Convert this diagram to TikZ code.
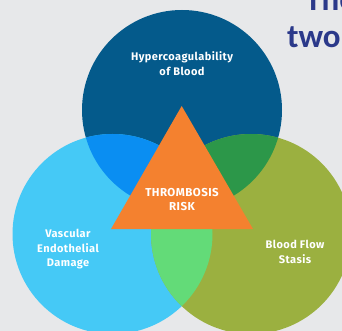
\documentclass[tikz,border=0pt]{standalone}
\usepackage{fontspec}
\setmainfont{Fira Sans}[LetterSpace=4]
\newfontfamily\headfont{Carlito}
\definecolor{bg}{HTML}{E7E8EA}
\definecolor{topc}{HTML}{045A8B}
\definecolor{leftc}{HTML}{45C9F6}
\definecolor{rightc}{HTML}{9BB040}
\definecolor{tlc}{HTML}{0A8EF2}
\definecolor{trc}{HTML}{2C9749}
\definecolor{lrc}{HTML}{63DB78}
\definecolor{tric}{HTML}{F4812F}
\definecolor{navy}{HTML}{2B398A}
\tikzset{
  venn/.style={circle, minimum size=200pt, inner sep=0pt, draw=none},
  lab/.style={text=white, font=\bfseries\fontsize{11}{14.5}\selectfont, align=center, inner sep=0pt},
  head/.style={text=navy, font=\headfont\bfseries\fontsize{33}{37}\selectfont, anchor=base west, inner sep=0pt}
}
\begin{document}
\begin{tikzpicture}[x=1pt,y=-1pt]
\useasboundingbox (0,0) rectangle (342,331);
\clip (0,0) rectangle (342,331);
\fill[bg] (0,0) rectangle (342,331);
\node[venn, fill=topc] (top) at (182,110) {};
\node[venn, fill=leftc] (left) at (112.5,234) {};
\node[venn, fill=rightc] (right) at (251,234) {};
\begin{scope}
  \clip (182,110) circle (100);
  \fill[tlc] (112.5,234) circle (100);
  \fill[trc] (251,234) circle (100);
\end{scope}
\begin{scope}
  \clip (112.5,234) circle (100);
  \fill[lrc] (251,234) circle (100);
\end{scope}
\fill[tric] (181.7,106) -- (253,229) -- (111,229) -- cycle;
\node[lab] (hyper) at (182,63.5) {Hypercoagulability\\of Blood};
\node[lab, font=\bfseries\fontsize{11.5}{14}\selectfont] (risk) at (182,200) {THROMBOSIS\\RISK};
\node[lab] (vasc) at (68,249.5) {Vascular\\Endothelial\\Damage};
\node[lab] (stasis) at (295,252) {Blood Flow\\Stasis};
\node[head] (the) at (305,11) {The};
\node[head] (two) at (287,48) {two};
\end{tikzpicture}
\end{document}
